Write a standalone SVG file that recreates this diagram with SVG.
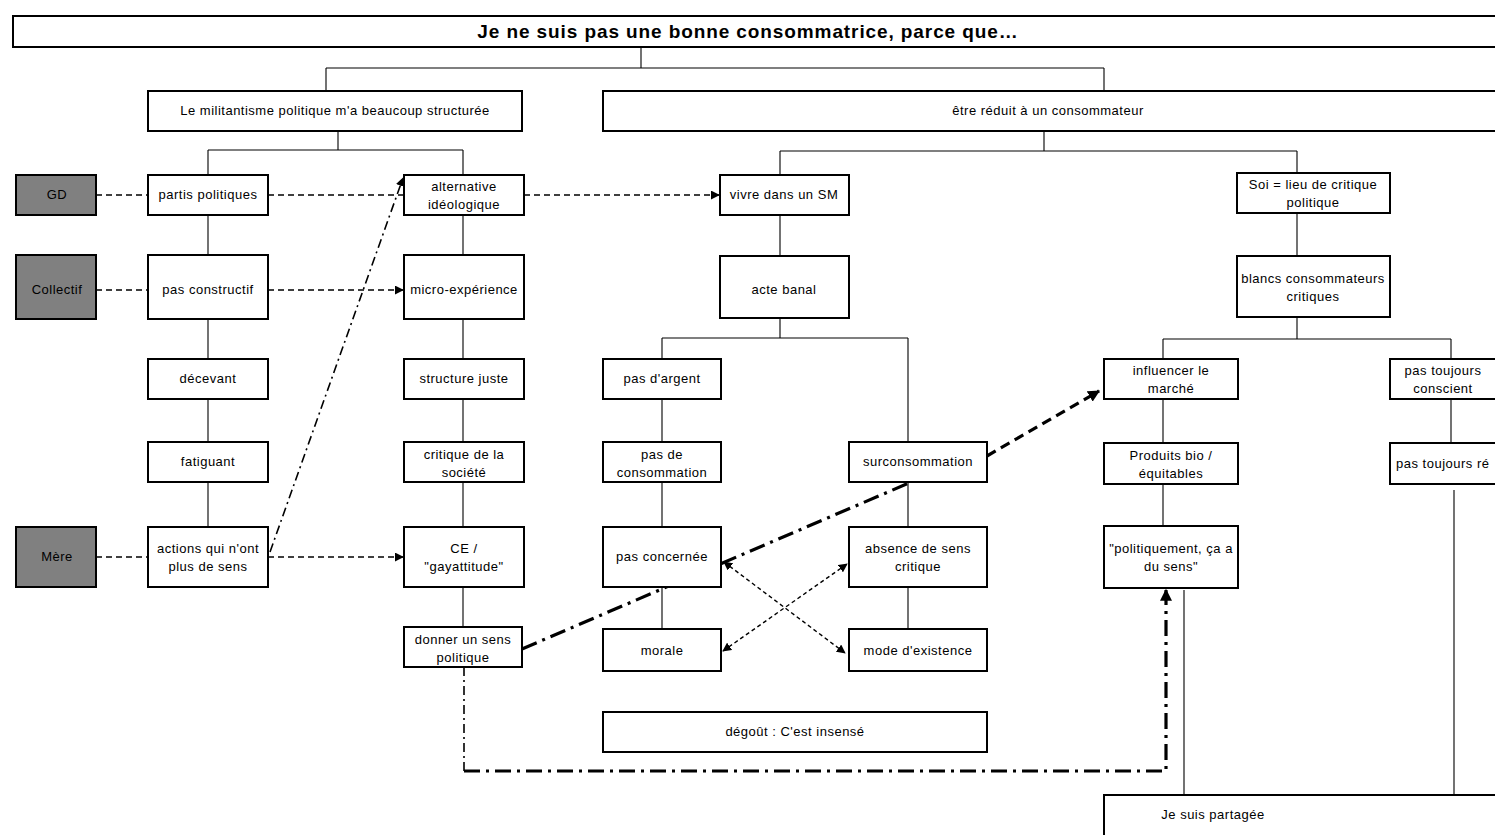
<svg xmlns="http://www.w3.org/2000/svg" width="1495" height="835" viewBox="0 0 1495 835">
  <style>
    .box { fill: #ffffff; stroke: #000000; stroke-width: 2; }
    .grey { fill: #808080; stroke: #000000; stroke-width: 2; }
    .t { font-family: "Liberation Sans", Arial, sans-serif; font-size: 13px; letter-spacing: 0.5px; fill: #000000; text-anchor: middle; }
    .title { font-family: "Liberation Sans", Arial, sans-serif; font-size: 19px; letter-spacing: 0.9px; font-weight: bold; fill: #000000; text-anchor: middle; }
    .tree { stroke: #000000; stroke-width: 1.1; fill: none; }
    .dash { stroke: #000000; stroke-width: 1.6; fill: none; stroke-dasharray: 6 4; }
    .dot { stroke: #000000; stroke-width: 1.4; fill: none; stroke-dasharray: 4 3; }
    .dashdot { stroke: #000000; stroke-width: 1.6; fill: none; stroke-dasharray: 9 4 2 4; }
    .thickdd { stroke: #000000; stroke-width: 3.2; fill: none; stroke-dasharray: 16 6 3 6; }
    .thickdash { stroke: #000000; stroke-width: 3.2; fill: none; stroke-dasharray: 10 6; }
  </style>
  <defs>
    <marker id="arr" viewBox="0 0 10 10" refX="9" refY="5" markerWidth="9" markerHeight="9" markerUnits="userSpaceOnUse" orient="auto">
      <path d="M0,0 L10,5 L0,10 z" fill="#000000"/>
    </marker>
    <marker id="arrS" viewBox="0 0 10 10" refX="1" refY="5" markerWidth="9" markerHeight="9" markerUnits="userSpaceOnUse" orient="auto">
      <path d="M10,0 L0,5 L10,10 z" fill="#000000"/>
    </marker>
    <marker id="arrL" viewBox="0 0 10 10" refX="9" refY="5" markerWidth="12" markerHeight="12" markerUnits="userSpaceOnUse" orient="auto">
      <path d="M0,0 L10,5 L0,10 z" fill="#000000"/>
    </marker>
  </defs>

  <!-- connectors -->
  <g id="connectors">
    <!-- tree lines -->
    <path class="tree" d="M641,47 V68 M326,68 H1104 M326,68 V91 M1104,68 V91"/>
    <path class="tree" d="M338,131 V150 M208,150 H463 M208,150 V175 M463,150 V175"/>
    <path class="tree" d="M1044,131 V151 M780,151 H1297 M780,151 V175 M1297,151 V175"/>
    <path class="tree" d="M208,215 V255 M208,319 V359 M208,399 V442 M208,482 V527"/>
    <path class="tree" d="M463,215 V255 M463,319 V359 M463,399 V442 M463,482 V527 M463,587 V627"/>
    <path class="tree" d="M780,215 V256 M780,318 V338 M662,338 H908 M662,338 V359 M908,338 V442"/>
    <path class="tree" d="M662,399 V442 M662,482 V527 M662,587 V629"/>
    <path class="tree" d="M908,482 V527 M908,587 V629"/>
    <path class="tree" d="M1297,213 V256 M1297,317 V339 M1163,339 H1451 M1163,339 V359 M1451,339 V359"/>
    <path class="tree" d="M1163,399 V442 M1163,484 V526 M1451,399 V442"/>
    <path class="tree" d="M1184,590 V795 M1454,490 V795"/>

    <!-- dashed links -->
    <path class="dash" d="M96,195 H148"/>
    <path class="dash" d="M268,195 H404"/>
    <path class="dash" d="M96,290 H148"/>
    <path class="dash" d="M268,290 H403" marker-end="url(#arr)"/>
    <path class="dash" d="M96,557 H148"/>
    <path class="dash" d="M268,557 H403" marker-end="url(#arr)"/>
    <path class="dash" d="M524,195 H719" marker-end="url(#arr)"/>

    <!-- dash-dot from "actions" to "alternative" -->
    <path class="dashdot" d="M270,552 L403,178" marker-end="url(#arr)"/>

    <!-- double-headed dotted arrows -->
    <path class="dot" d="M724,562 L845,653" marker-start="url(#arrS)" marker-end="url(#arr)"/>
    <path class="dot" d="M723,651 L847,564" marker-start="url(#arrS)" marker-end="url(#arr)"/>

    <!-- thick dash-dot from "donner un sens politique" -->
    <path class="thickdd" d="M522,649 L916,480"/>
    <path class="thickdash" d="M987,456 L1099,391" marker-end="url(#arrL)"/>
    <path class="dashdot" d="M464,667 V771"/>
    <path class="thickdd" d="M464,771 H1166 V590" marker-end="url(#arrL)"/>
  </g>

  <!-- nodes -->
  <g id="title"><rect class="box" x="13" y="16" width="1500" height="31"/><text class="title" x="748" y="38">Je ne suis pas une bonne consommatrice, parce que…</text></g>
  <g id="militantisme"><rect class="box" x="148" y="91" width="374" height="40"/><text class="t" x="335" y="115">Le militantisme politique m'a beaucoup structurée</text></g>
  <g id="reduit"><rect class="box" x="603" y="91" width="900" height="40"/><text class="t" x="1048" y="115">être réduit à un consommateur</text></g>

  <g id="gd"><rect class="grey" x="16" y="175" width="80" height="40"/><text class="t" x="57" y="199">GD</text></g>
  <g id="collectif"><rect class="grey" x="16" y="255" width="80" height="64"/><text class="t" x="57" y="294">Collectif</text></g>
  <g id="mere"><rect class="grey" x="16" y="527" width="80" height="60"/><text class="t" x="57" y="561">Mère</text></g>

  <g id="partis"><rect class="box" x="148" y="175" width="120" height="40"/><text class="t" x="208" y="199">partis politiques</text></g>
  <g id="pasconstructif"><rect class="box" x="148" y="255" width="120" height="64"/><text class="t" x="208" y="294">pas constructif</text></g>
  <g id="decevant"><rect class="box" x="148" y="359" width="120" height="40"/><text class="t" x="208" y="383">décevant</text></g>
  <g id="fatiguant"><rect class="box" x="148" y="442" width="120" height="40"/><text class="t" x="208" y="466">fatiguant</text></g>
  <g id="actions"><rect class="box" x="148" y="527" width="120" height="60"/><text class="t" x="208" y="553">actions qui n'ont</text><text class="t" x="208" y="571">plus de sens</text></g>

  <g id="alternative"><rect class="box" x="404" y="175" width="120" height="40"/><text class="t" x="464" y="191">alternative</text><text class="t" x="464" y="209">idéologique</text></g>
  <g id="micro"><rect class="box" x="404" y="255" width="120" height="64"/><text class="t" x="464" y="294">micro-expérience</text></g>
  <g id="structure"><rect class="box" x="404" y="359" width="120" height="40"/><text class="t" x="464" y="383">structure juste</text></g>
  <g id="critique"><rect class="box" x="404" y="442" width="120" height="40"/><text class="t" x="464" y="459">critique de la</text><text class="t" x="464" y="477">société</text></g>
  <g id="ce"><rect class="box" x="404" y="527" width="120" height="60"/><text class="t" x="464" y="553">CE /</text><text class="t" x="464" y="571">"gayattitude"</text></g>
  <g id="donner"><rect class="box" x="404" y="627" width="118" height="40"/><text class="t" x="463" y="644">donner un sens</text><text class="t" x="463" y="662">politique</text></g>

  <g id="vivre"><rect class="box" x="720" y="175" width="129" height="40"/><text class="t" x="784" y="199">vivre dans un SM</text></g>
  <g id="acte"><rect class="box" x="720" y="256" width="129" height="62"/><text class="t" x="784" y="294">acte banal</text></g>

  <g id="argent"><rect class="box" x="603" y="359" width="118" height="40"/><text class="t" x="662" y="383">pas d'argent</text></g>
  <g id="pasconso"><rect class="box" x="603" y="442" width="118" height="40"/><text class="t" x="662" y="459">pas de</text><text class="t" x="662" y="477">consommation</text></g>
  <g id="concernee"><rect class="box" x="603" y="527" width="118" height="60"/><text class="t" x="662" y="561">pas concernée</text></g>
  <g id="morale"><rect class="box" x="603" y="629" width="118" height="42"/><text class="t" x="662" y="655">morale</text></g>

  <g id="surconso"><rect class="box" x="849" y="442" width="138" height="40"/><text class="t" x="918" y="466">surconsommation</text></g>
  <g id="absence"><rect class="box" x="849" y="527" width="138" height="60"/><text class="t" x="918" y="553">absence de sens</text><text class="t" x="918" y="571">critique</text></g>
  <g id="mode"><rect class="box" x="849" y="629" width="138" height="42"/><text class="t" x="918" y="655">mode d'existence</text></g>

  <g id="degout"><rect class="box" x="603" y="712" width="384" height="40"/><text class="t" x="795" y="736">dégoût : C'est insensé</text></g>

  <g id="soi"><rect class="box" x="1237" y="173" width="153" height="40"/><text class="t" x="1313" y="189">Soi = lieu de critique</text><text class="t" x="1313" y="207">politique</text></g>
  <g id="blancs"><rect class="box" x="1237" y="256" width="153" height="61"/><text class="t" x="1313" y="283">blancs consommateurs</text><text class="t" x="1313" y="301">critiques</text></g>

  <g id="influencer"><rect class="box" x="1104" y="359" width="134" height="40"/><text class="t" x="1171" y="375">influencer le</text><text class="t" x="1171" y="393">marché</text></g>
  <g id="produits"><rect class="box" x="1104" y="443" width="134" height="41"/><text class="t" x="1171" y="460">Produits bio /</text><text class="t" x="1171" y="478">équitables</text></g>
  <g id="politiquement"><rect class="box" x="1104" y="526" width="134" height="62"/><text class="t" x="1171" y="553">"politiquement, ça a</text><text class="t" x="1171" y="571">du sens"</text></g>

  <g id="conscient"><rect class="box" x="1390" y="359" width="120" height="40"/><text class="t" x="1443" y="375">pas toujours</text><text class="t" x="1443" y="393">conscient</text></g>
  <g id="reflechi"><rect class="box" x="1390" y="443" width="120" height="41"/><text class="t" x="1396" y="468" style="text-anchor:start">pas toujours ré</text></g>

  <g id="partagee"><rect class="box" x="1104" y="795" width="410" height="50"/><text class="t" x="1213" y="819">Je suis partagée</text></g>
</svg>
